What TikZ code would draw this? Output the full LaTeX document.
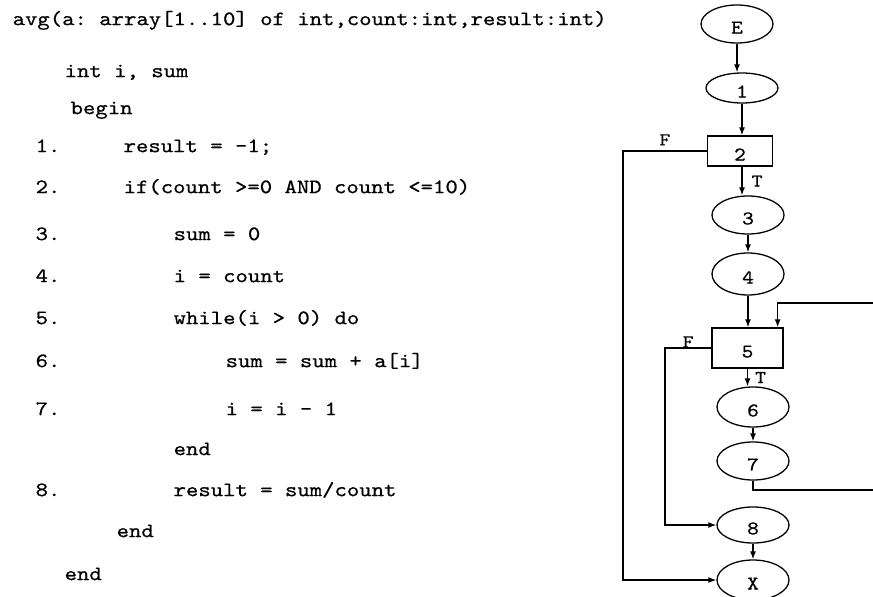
\documentclass[tikz,border=0pt]{standalone}
\usepackage{fontspec}
\newfontfamily\codefont{lmmono10-regular.otf}[FakeStretch=1.15,FakeBold=0.6]
\usetikzlibrary{shapes.geometric,arrows.meta}
\frenchspacing

\begin{document}
\begin{tikzpicture}[x=1pt, y=-1pt, line width=1.3pt, >={Latex[length=8pt,width=6pt]},
    code/.style={anchor=mid west, inner sep=0pt, font=\codefont\fontsize{20.5}{24}\selectfont},
    blk/.style={ellipse, draw, minimum width=72pt, minimum height=38pt, inner sep=0pt,
        text height=19pt, text depth=0pt, font=\codefont\fontsize{19.5}{22}\selectfont},
    dec/.style={rectangle, draw, inner sep=0pt,
        text height=19pt, text depth=0pt, font=\codefont\fontsize{19.5}{22}\selectfont},
    lbl/.style={inner sep=0pt, font=\codefont\fontsize{18}{20}\selectfont}]
    \useasboundingbox (0,0) rectangle (873,597);
    \clip (0,0) rectangle (873,597);

    \node[code] (head) at (12,23) {avg(a: array[1..10] of int,count:int,result:int)};
    \node[code] (decl) at (64,75) {int i, sum};
    \node[code] (beg) at (70,112) {begin};
    \node[code] (k1) at (35,150) {1.};
    \node[code] (s1) at (123,150) {result = -1;};
    \node[code] (k2) at (35,191) {2.};
    \node[code] (s2) at (123,191) {if(count >=0 AND count <=10)};
    \node[code] (k3) at (35,238) {3.};
    \node[code] (s3) at (173,238) {sum = 0};
    \node[code] (k4) at (35,280) {4.};
    \node[code] (s4) at (173,280) {i = count};
    \node[code] (k5) at (35,322) {5.};
    \node[code] (s5) at (173,322) {while(i > 0) do};
    \node[code] (k6) at (35,365) {6.};
    \node[code] (s6) at (225,365) {sum = sum + a[i]};
    \node[code] (k7) at (35,413) {7.};
    \node[code] (s7) at (225,413) {i = i - 1};
    \node[code] (e1) at (173,453) {end};
    \node[code] (k8) at (35,494) {8.};
    \node[code] (s8) at (173,494) {result = sum/count};
    \node[code] (e2) at (116,535) {end};
    \node[code] (e3) at (64,578) {end};

    \node[blk] (E) at (737,24) {E};
    \node[blk, minimum height=30pt] (n1) at (742,88) {1};
    \node[dec, minimum width=65pt, minimum height=30pt] (n2) at (740,151) {2};
    \node[blk] (n3) at (748,215) {3};
    \node[blk, minimum height=42pt] (n4) at (748,274) {4};
    \node[dec, minimum width=71pt, minimum height=40pt] (n5) at (747.5,348) {5};
    \node[blk, minimum height=40pt] (n6) at (753,407) {6};
    \node[blk] (n7) at (753,461) {7};
    \node[blk, minimum height=36pt] (n8) at (753,525) {8};
    \node[blk, minimum height=40pt] (nX) at (753,580) {X};

    \coordinate (railA) at (623,0);
    \coordinate (railB) at (665,0);
    \coordinate (loopB) at (880,490);
    \coordinate (loopT) at (880,303);

    \draw[->] (E.south) -- (E.south |- n1.north);
    \draw[->] (n1.south) -- (n1.south |- n2.north);
    \draw[->] ([xshift=2pt]n2.south) -- node[lbl, right=9pt] {T} ([xshift=2pt]n2.south |- n3.north);
    \draw[->] (n3.south) -- (n3.south |- n4.north);
    \draw[->] (n4.south) -- (n4.south |- n5.north);
    \draw[->] (n5.south) -- node[lbl, right=7pt] {T} (n5.south |- n6.north);
    \draw[->] (n6.south) -- (n6.south |- n7.north);
    \draw[->] (n8.south) -- (n8.south |- nX.north);
    \draw[->] (n7.south) |- (loopB) -- (loopT) -| ([xshift=-6pt]n5.north east);
    \draw[->] (n2.west) -- node[lbl, above=5pt] {F} (n2.west -| railA) |- (nX.west);
    \draw[->] (n5.west) -- node[lbl, above=0pt] {F} (n5.west -| railB) |- (n8.west);
\end{tikzpicture}
\end{document}
